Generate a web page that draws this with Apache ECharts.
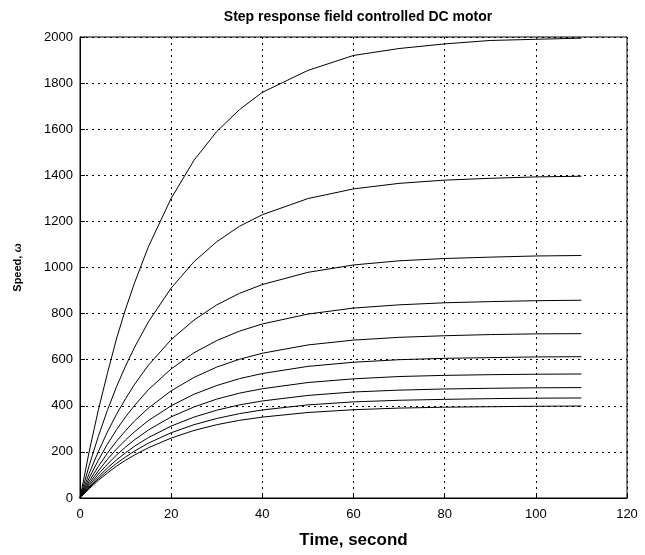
<!DOCTYPE html>
<html>
<head>
<meta charset="utf-8">
<script src="https://cdn.jsdelivr.net/npm/echarts@6/dist/echarts.min.js"></script>
<style>html,body{margin:0;padding:0;background:#fff;}#chart{width:645px;height:555px;}</style>
</head>
<body>
<div id="chart"></div>
<script>
const times = [0,2,4,6,8,10,12,15,20,25,30,35,40,50,60,70,80,90,100,110];
const curve1 = [0,200,380,540,690,820,935,1090,1300,1465,1590,1685,1760,1855,1920,1950,1970,1985,1990,1995];
const curve2 = [0,140,266,380,482,573,655,764,911,1025,1112,1179,1229,1299,1341,1365,1379,1387,1393,1396];
const curve3 = [0,106,200,286,363,431,494,576,687,772,838,888,926,979,1011,1029,1039,1045,1050,1052];
const curve4 = [0,86,163,233,296,352,402,470,560,630,683,724,755,798,824,838,847,852,856,858];
const curve5 = [0,72,136,194,246,292,335,390,465,523,568,602,628,664,685,697,704,709,712,713];
const curve6 = [0,62,117,167,212,252,288,336,400,450,488,518,540,571,589,600,606,609,612,613];
const curve7 = [0,54,103,146,186,221,253,295,352,395,429,455,474,501,517,527,532,535,537,538];
const curve8 = [0,48,91,130,165,196,225,262,312,351,381,404,421,445,460,468,473,476,478,479];
const curve9 = [0,44,83,118,150,178,204,238,283,318,345,366,382,404,417,424,428,431,433,434];
const curve10 = [0,40,76,108,138,164,187,218,260,293,318,337,351,371,383,390,394,396,398,399];
const curves = [curve1,curve2,curve3,curve4,curve5,curve6,curve7,curve8,curve9,curve10];

const chart = echarts.init(document.getElementById('chart'));
const font = 'Liberation Sans, Arial, sans-serif';
chart.setOption({
  animation: false,
  backgroundColor: '#fff',
  title: {
    text: 'Step response field controlled DC motor',
    left: 353, top: 5, textAlign: 'center',
    textStyle: {fontFamily: font, fontSize: 14, fontWeight: 'bold', color: '#000'}
  },
  grid: {left: 80, right: 18, top: 37, bottom: 57, show: true, borderColor: '#000', borderWidth: 1, backgroundColor: 'transparent'},
  xAxis: {
    type: 'value', min: 0, max: 120, interval: 20,
    name: 'Time, second', nameLocation: 'middle', nameGap: 34,
    nameTextStyle: {fontFamily: font, fontSize: 17, fontWeight: 'bold', color: '#000'},
    axisLine: {show: true, lineStyle: {color: '#000', width: 1}},
    axisTick: {show: true, inside: true, length: 5, lineStyle: {color: '#000'}},
    axisLabel: {fontFamily: font, fontSize: 13, color: '#000', margin: 10, formatter: v => String(v)},
    splitLine: {show: true, lineStyle: {type: [2, 4], color: '#000', width: 1}}
  },
  yAxis: {
    type: 'value', min: 0, max: 2000, interval: 200,
    name: 'Speed, ω', nameLocation: 'middle', nameGap: 57,
    nameTextStyle: {fontFamily: font, fontSize: 11, fontWeight: 'bold', color: '#000'},
    axisLine: {show: true, lineStyle: {color: '#000', width: 1}},
    axisTick: {show: true, inside: true, length: 5, lineStyle: {color: '#000'}},
    axisLabel: {fontFamily: font, fontSize: 13, color: '#000', margin: 7, formatter: v => String(v)},
    splitLine: {show: true, lineStyle: {type: [2, 4], color: '#000', width: 1}}
  },
  series: curves.map(c => ({
    type: 'line', showSymbol: false, smooth: false,
    lineStyle: {color: '#000', width: 1},
    data: times.map((t, i) => [t, c[i]])
  }))
});
</script>
</body>
</html>
